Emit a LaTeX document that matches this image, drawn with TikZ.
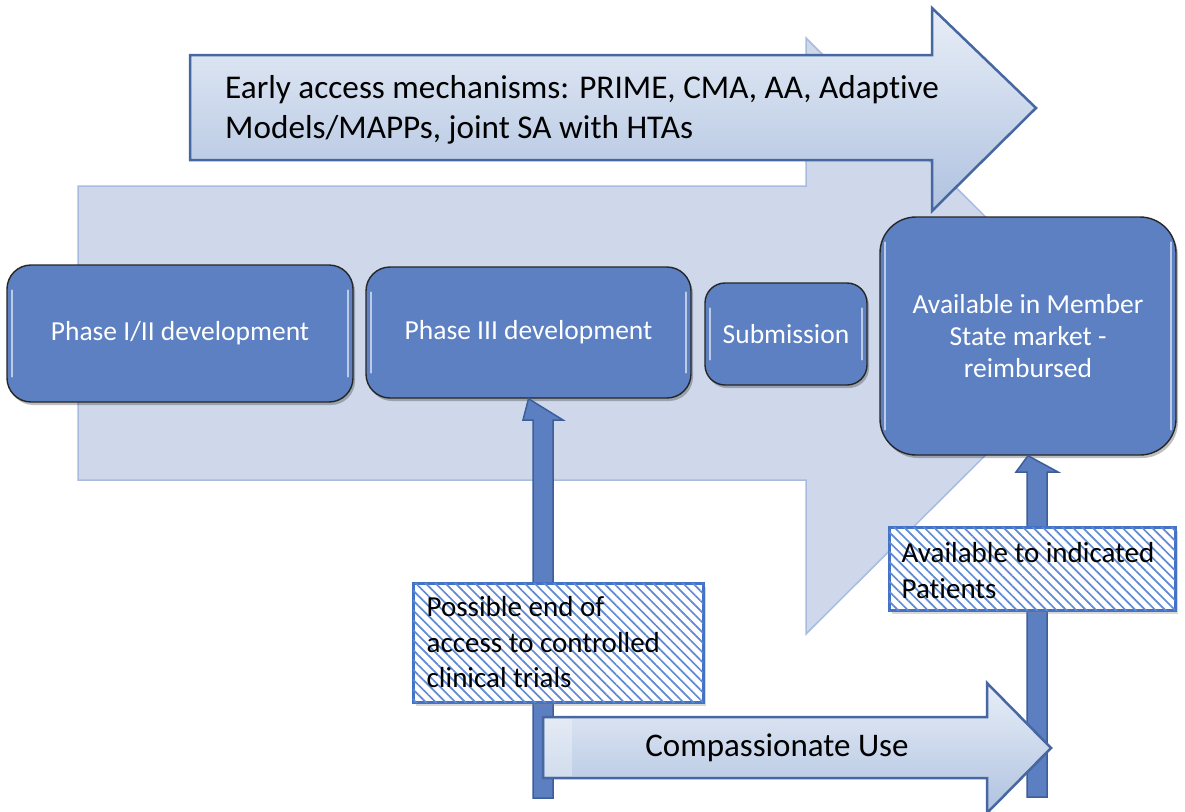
\documentclass[tikz,border=0pt]{standalone}
\usepackage{fontspec}
\setmainfont{Carlito}[Ligatures={NoCommon}]
\usetikzlibrary{patterns.meta,shadows}
\definecolor{bgarrow}{HTML}{CED8EA}
\definecolor{bgedge}{HTML}{A9BCDF}
\definecolor{boxblue}{HTML}{5C80C2}
\definecolor{boxedge}{HTML}{262626}
\definecolor{arrowedge}{HTML}{46679F}
\definecolor{gradtop}{HTML}{E8EEF7}
\definecolor{gradbot}{HTML}{AFC2E0}
\definecolor{upfill}{HTML}{5B7FC0}
\definecolor{upedge}{HTML}{3E5E99}
\definecolor{hatchblue}{HTML}{4472C4}
\definecolor{hatchline}{HTML}{5F8AD3}
\tikzset{
  bigarrow/.style={draw=arrowedge, line width=2.5pt, top color=gradtop, bottom color=gradbot, line join=miter},
  upar/.style={fill=upfill, draw=upedge, line width=1.5pt, line join=miter},
  stagebox/.style={rounded corners=24pt, fill=boxblue, draw=boxedge, line width=1.4pt,
     text=white, font=\fontsize{27.5}{32}\selectfont, align=center, inner sep=0pt,
     drop shadow={shadow xshift=2pt, shadow yshift=-3pt, opacity=0.25, fill=black}},
  hl/.style={white, opacity=0.6, line width=2pt, line cap=round},
  hatchbox/.style={draw=hatchblue, line width=3pt, fill=white,
     postaction={pattern={Lines[angle=-45, distance=7pt, line width=1.7pt]}, pattern color=hatchline},
     drop shadow={shadow xshift=3pt, shadow yshift=-4pt, opacity=0.3, fill=gray}, inner sep=0pt},
  hatchtext/.style={font=\fontsize{29}{35.5}\selectfont, align=left, text=black, inner sep=0pt, anchor=west}
}
\begin{document}
\begin{tikzpicture}[x=1pt,y=-1pt]
\useasboundingbox[fill=white] (0,0) rectangle (1185,811);

% large background arrow
\filldraw[fill=bgarrow, draw=bgedge, line width=1.5pt, line join=miter]
  (78,186) -- (806,186) -- (806,38) -- (1105,336) -- (806,634) -- (806,480) -- (78,480) -- cycle;

% top arrow: early access
\path[bigarrow] (190,55) -- (932,55) -- (932,8) -- (1036,108) -- (932,211) -- (932,160) -- (190,160) -- cycle;
\node[font=\fontsize{33.2}{40}\selectfont, align=left, anchor=west, inner sep=0pt] (early) at (225,110)
  {Early access mechanisms: PRIME, CMA, AA, Adaptive\\Models/MAPPs, joint SA with HTAs};

% stage boxes
\node[stagebox, minimum width=346pt, minimum height=137pt] (p12) at (180,333.5) {Phase I/II development};
\node[stagebox, minimum width=325pt, minimum height=131pt] (p3) at (528.5,332.5) {Phase III development};
\node[stagebox, minimum width=162pt, minimum height=102pt, rounded corners=20pt] (sub) at (786,334) {Submission};
\node[stagebox, minimum width=296pt, minimum height=238pt, rounded corners=36pt] (avail) at (1028,336) {Available in Member\\State market -\\reimbursed};

\foreach \n in {p12,p3,sub,avail}{
  \draw[hl] ([xshift=6pt,yshift=-26pt]\n.north west) -- ([xshift=6pt,yshift=26pt]\n.south west);
  \draw[hl] ([xshift=-6pt,yshift=-26pt]\n.north east) -- ([xshift=-6pt,yshift=26pt]\n.south east);
}

% vertical arrows
\coordinate (b3) at (543,798);
\coordinate (ba) at (1037,797);
\path[upar] (533,798) -- (533,420) -- (523,420) -- (p3.south) -- (563,420) -- (553,420) -- (553,798) -- cycle;
\path[upar] (1027,797) -- (1027,472) -- (1016,472) -- (avail.south) -- (1058,472) -- (1047,472) -- (1047,797) -- cycle;

% compassionate use arrow
\path[bigarrow] (543,717) -- (987,717) -- (987,683) -- (1051,748) -- (987,813) -- (987,778) -- (543,778) -- cycle;
\fill[white, opacity=0.3] (545,719) rectangle (572,776);
\node[font=\fontsize{33}{40}\selectfont, inner sep=0pt] (cu) at (777,748) {Compassionate Use};

% hatched boxes
\node[hatchbox, minimum width=290pt, minimum height=119pt] (hb1) at (558,642.5) {};
\node[hatchtext] (t1) at ([xshift=15pt]hb1.west) {Possible end of\\access to controlled\\clinical trials};
\node[hatchbox, minimum width=286pt, minimum height=83pt] (hb2) at (1032,568.5) {};
\node[hatchtext] (t2) at ([xshift=14pt,yshift=-2pt]hb2.west) {Available to indicated\\Patients};
\end{tikzpicture}
\end{document}
